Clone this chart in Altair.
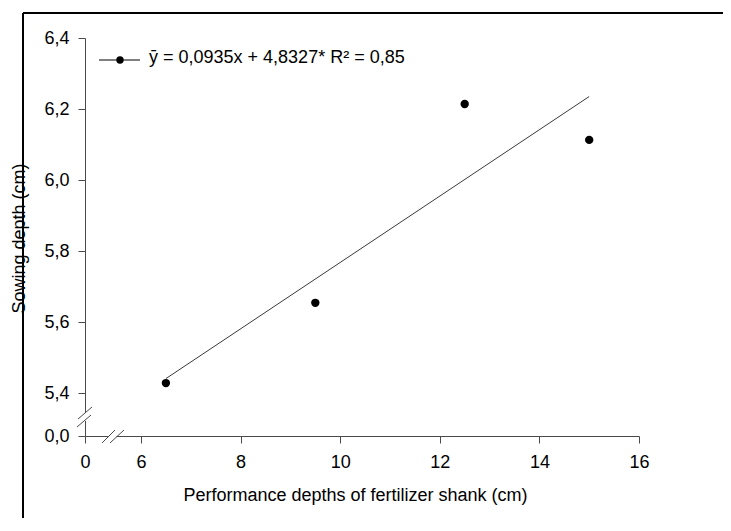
import altair as alt
import pandas as pd

# ---- data ----
depth_x = [6.5, 9.5, 12.5, 15.0]           # performance depth of fertilizer shank (cm)
sowing_y = [5.428, 5.654, 6.214, 6.113]     # sowing depth (cm)
fit_x = [6.5, 15.0]                         # fitted line end points
fit_y = [5.4405, 6.2352]
x_ticks = [0, 6, 8, 10, 12, 14, 16]
y_ticks = [0.0, 5.4, 5.6, 5.8, 6.0, 6.2, 6.4]
legend_text = "ȳ = 0,0935x + 4,8327*  R² = 0,85"
x_title = "Performance depths of fertilizer shank (cm)"
y_title = "Sowing depth (cm)"

FONT = "Liberation Sans, Arial"
FS = 18
AX = "#4a4a4a"

W, H = 554, 398
# broken axes: piecewise linear scales
xscale = alt.Scale(domain=[0, 6, 16], range=[0, 56, W], nice=False, zero=False)
yscale = alt.Scale(domain=[0, 5.4, 6.4], range=[H, 355, 0], nice=False, zero=False)

pts = pd.DataFrame({"x": depth_x, "y": sowing_y})
fit = pd.DataFrame({"x": fit_x, "y": fit_y})

xaxis = alt.Axis(values=x_ticks, format="d", grid=False, domainColor=AX, tickColor=AX,
                 tickSize=7, labelPadding=10, labelFont=FONT, labelFontSize=FS,
                 labelColor="black", title=x_title, titleFont=FONT, titleFontSize=FS,
                 titleFontWeight="normal", titleColor="black", titleX=270, titleY=50,
                 titleAlign="center", titleBaseline="top", labelFlush=False)
yaxis = alt.Axis(values=y_ticks, grid=False, domainColor=AX, tickColor=AX,
                 tickSize=7, labelPadding=9, labelFont=FONT, labelFontSize=FS,
                 labelColor="black",
                 labelExpr="replace(format(datum.value, '.1f'), '.', ',')",
                 title=y_title, titleFont=FONT, titleFontSize=FS,
                 titleFontWeight="normal", titleColor="black", titleX=-66, titleY=200,
                 titleAlign="center", titleBaseline="middle", titleAngle=-90,
                 labelFlush=False)

line = alt.Chart(fit).mark_line(color="#3a3a3a", strokeWidth=1).encode(
    x=alt.X("x:Q", scale=xscale, axis=xaxis),
    y=alt.Y("y:Q", scale=yscale, axis=yaxis),
)
points = alt.Chart(pts).mark_point(filled=True, color="black", size=70, opacity=1).encode(
    x=alt.X("x:Q", scale=xscale),
    y=alt.Y("y:Q", scale=yscale),
)

one = alt.Data(values=[{}])

def seg(x1, y1, x2, y2, color=AX, width=1):
    return alt.Chart(one).mark_rule(color=color, strokeWidth=width).encode(
        x=alt.value(x1), y=alt.value(y1), x2=alt.value(x2), y2=alt.value(y2))

decor = [
    # outer frame (left and top edges)
    seg(-62, -25, -62, 520, "black", 2),
    seg(-62, -25, 700, -25, "black", 2),
    # y-axis break
    seg(0, 375, 0, 383, "white", 3),
    seg(-7, 381, 7, 369),
    seg(-8, 389, 6, 377),
    # x-axis break
    seg(23.5, H, 31.5, H, "white", 3),
    seg(17, 405, 30, 392),
    seg(25, 405, 39, 392),
    # legend sample
    seg(14, 22, 55, 22, "black", 1),
]
leg_pt = alt.Chart(one).mark_point(filled=True, color="black", size=55, opacity=1).encode(
    x=alt.value(35), y=alt.value(22))
leg_txt = alt.Chart(one).mark_text(align="left", baseline="middle", font=FONT,
                                   fontSize=FS, color="black").encode(
    x=alt.value(64), y=alt.value(20), text=alt.value(legend_text))

chart = alt.layer(line, points, *decor, leg_pt, leg_txt).properties(
    width=W, height=H,
    autosize=alt.AutoSizeParams(type="none"),
    padding={"left": 77, "top": 30, "right": 84, "bottom": 82},
    background="white",
).configure_view(strokeWidth=0, stroke=None)

chart.save("out.html", embed_options={"renderer": "svg", "actions": False})
